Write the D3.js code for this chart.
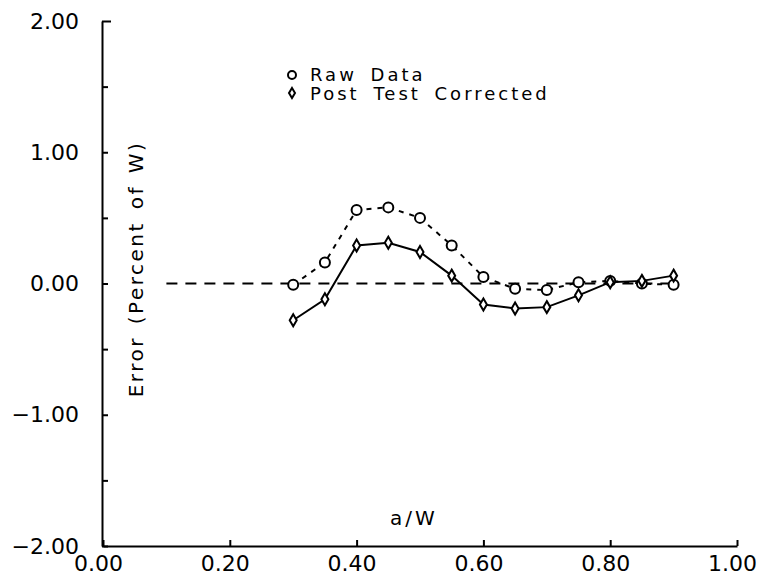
<!DOCTYPE html>
<html>
<head>
<meta charset="utf-8">
<title>Error vs a/W</title>
<script src="https://d3js.org/d3.v7.min.js"></script>
<style>
  body { margin: 0; background: #fff; }
  text { font-family: "DejaVu Sans", sans-serif; fill: #000; }
</style>
</head>
<body>
<div id="chart"></div>
<script>
    // data
    var aW        = [0.30, 0.35, 0.40, 0.45, 0.50, 0.55, 0.60, 0.65, 0.70, 0.75, 0.80, 0.85, 0.90];
    var rawData   = [-0.01, 0.16, 0.56, 0.58, 0.50, 0.29, 0.05, -0.04, -0.05, 0.01, 0.02, 0.00, -0.01];
    var corrected = [-0.28, -0.12, 0.29, 0.31, 0.24, 0.06, -0.16, -0.19, -0.18, -0.09, 0.01, 0.02, 0.06];
    var xTicks = [0, 0.2, 0.4, 0.6, 0.8, 1.0];
    var yTicks = [-2, -1.5, -1, -0.5, 0, 0.5, 1, 1.5, 2];
    var zeroLine = [0.1, 0.9];

    var margin = {top: 21, right: 25, bottom: 33, left: 103},
        width = 762 - margin.left - margin.right,
        height = 579 - margin.top - margin.bottom;

    var svg = d3.select("#chart")
      .append("svg")
        .attr("width", 762)
        .attr("height", 579)
      .append("g")
        .attr("transform", "translate(" + margin.left + "," + margin.top + ")");

    var x = d3.scaleLinear().domain([0, 1]).range([0, width]);
    var y = d3.scaleLinear().domain([-2, 2]).range([height, 0]);

    // y axis - ticks inward, labels only on whole numbers
    var yAxis = svg.append("g")
        .attr("transform", "translate(-1,0)")
        .call(d3.axisLeft(y)
            .tickValues(yTicks)
            .tickSizeInner(-6)
            .tickSizeOuter(0)
            .tickPadding(23)
            .tickFormat(function(d) { return d % 1 === 0 ? d3.format(".2f")(d) : ""; }));
    yAxis.attr("font-family", null).attr("font-size", null);
    yAxis.selectAll("text").style("font-size", "22px");
    yAxis.selectAll("path, line").attr("stroke", "#000").attr("stroke-width", 2);
    // top tick is a bit longer
    yAxis.selectAll(".tick line").filter(function(d) { return d === 2; }).attr("x2", 9);

    // x axis
    var xAxis = svg.append("g")
        .attr("transform", "translate(0," + height + ")")
        .call(d3.axisBottom(x)
            .tickValues(xTicks)
            .tickSizeInner(-6)
            .tickSizeOuter(0)
            .tickPadding(9)
            .tickFormat(d3.format(".2f")));
    xAxis.attr("font-family", null).attr("font-size", null);
    xAxis.selectAll("text").style("font-size", "22px").attr("dx", -5);
    xAxis.selectAll("path, line").attr("stroke", "#000").attr("stroke-width", 2);

    // axis titles
    svg.append("text")
        .attr("transform", "translate(" + 40 + "," + 248 + ")rotate(-90)")
        .attr("text-anchor", "middle")
        .style("font-size", "20px")
        .style("letter-spacing", "2.5px")
        .style("word-spacing", "3px")
        .text("Error (Percent of W)");

    svg.append("text")
        .attr("x", 311)
        .attr("y", 504)
        .attr("text-anchor", "middle")
        .style("font-size", "20px")
        .style("letter-spacing", "3px")
        .text("a/W");

    // dashed zero reference
    svg.append("line")
        .attr("x1", x(zeroLine[0]))
        .attr("x2", x(zeroLine[1]))
        .attr("y1", y(0))
        .attr("y2", y(0))
        .attr("stroke", "#000")
        .attr("stroke-width", 2)
        .attr("stroke-dasharray", "11,8");

    var pts = aW.map(function(d, i) { return {x: d, raw: rawData[i], cor: corrected[i]}; });

    var line = d3.line().x(function(d) { return x(d[0]); }).y(function(d) { return y(d[1]); });

    // raw data - dashed
    svg.append("path")
        .datum(pts.map(function(d) { return [d.x, d.raw]; }))
        .attr("d", line)
        .attr("fill", "none")
        .attr("stroke", "#000")
        .attr("stroke-width", 2)
        .attr("stroke-dasharray", "5,6");

    // corrected - solid
    svg.append("path")
        .datum(pts.map(function(d) { return [d.x, d.cor]; }))
        .attr("d", line)
        .attr("fill", "none")
        .attr("stroke", "#000")
        .attr("stroke-width", 2);

    svg.selectAll(".rawpt")
        .data(pts)
        .enter()
        .append("circle")
            .attr("class", "rawpt")
            .attr("cx", function(d) { return x(d.x); })
            .attr("cy", function(d) { return y(d.raw); })
            .attr("r", 5)
            .attr("fill", "#fff")
            .attr("stroke", "#000")
            .attr("stroke-width", 2);

    var diamond = "M0,-6L3.5,0L0,6L-3.5,0Z";
    svg.selectAll(".corpt")
        .data(pts)
        .enter()
        .append("path")
            .attr("class", "corpt")
            .attr("d", diamond)
            .attr("transform", function(d) { return "translate(" + x(d.x) + "," + y(d.cor) + ")"; })
            .attr("fill", "#fff")
            .attr("stroke", "#000")
            .attr("stroke-width", 2);

    // legend
    var legend = svg.append("g").attr("transform", "translate(189,54)");
    legend.append("circle")
        .attr("cx", 0).attr("cy", 0).attr("r", 4)
        .attr("fill", "none").attr("stroke", "#000").attr("stroke-width", 2);
    legend.append("text")
        .attr("x", 18).attr("y", 6)
        .style("font-size", "18px")
        .style("letter-spacing", "3px")
        .style("word-spacing", "5px")
        .text("Raw Data");
    legend.append("path")
        .attr("d", "M0,-5L3,0L0,5L-3,0Z")
        .attr("transform", "translate(0,18)")
        .attr("fill", "none").attr("stroke", "#000").attr("stroke-width", 2);
    legend.append("text")
        .attr("x", 18).attr("y", 25)
        .style("font-size", "18px")
        .style("letter-spacing", "3px")
        .style("word-spacing", "5px")
        .text("Post Test Corrected");
</script>
</body>
</html>
